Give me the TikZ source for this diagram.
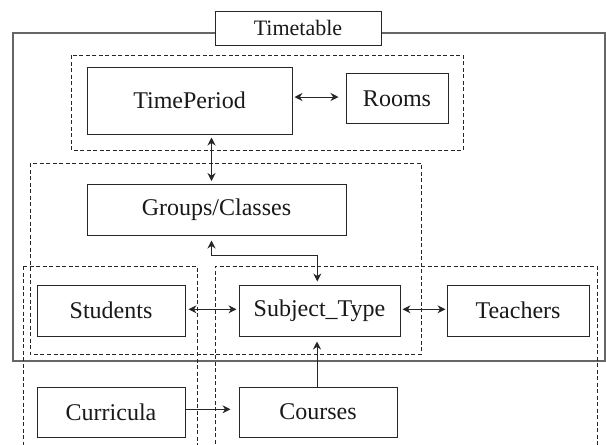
\documentclass[tikz,border=0pt]{standalone}
\usepackage{fontspec}
\setmainfont{Liberation Serif}
\usetikzlibrary{arrows.meta}
\begin{document}
\begin{tikzpicture}[x=1pt,y=-1pt,
  every node/.style={font=\fontsize{24}{28}\selectfont, text=black!90},
  entity/.style={draw=black!85, line width=1pt, inner sep=0pt, fill=white},
  group/.style={draw=black!85, line width=1pt, dash pattern=on 4pt off 2.5pt},
  frame/.style={draw=black!60, line width=1.8pt},
  link/.style={draw=black!85, line width=1pt, {Stealth[length=8pt,width=8pt]}-{Stealth[length=8pt,width=8pt]}},
  oneway/.style={draw=black!85, line width=1pt, -{Stealth[length=8pt,width=8pt]}}]
\useasboundingbox (0,0) rectangle (606,445);

% outer frame of the timetable
\draw[frame] (13,33) rectangle (605,361);

% dashed groupings
\draw[group] (71,55) rectangle (463,150);
\draw[group] (30,163) rectangle (421,354);
\draw[group] (23,266) -- (23,450) (23,266) -- (197,266) -- (197,450);
\draw[group] (215,450) -- (215,266) -- (597,266) -- (597,450);

% entities
\node[entity, minimum width=166pt, minimum height=34pt, font=\fontsize{22}{26}\selectfont] (timetable) at (298,28) {Timetable};
\node[entity, minimum width=205pt, minimum height=67pt] (period) at (189.5,100.5) {TimePeriod};
\node[entity, minimum width=102pt, minimum height=50pt] (rooms) at (397,98.5) {Rooms};
\node[entity, minimum width=259pt, minimum height=51pt] (groups) at (216.5,209.5) {Groups/Classes};
\node[entity, minimum width=148pt, minimum height=51pt] (students) at (111,310.5) {Students};
\node[entity, minimum width=161pt, minimum height=51pt] (subject) at (319.5,310.5) {Subject\_Type};
\node[entity, minimum width=142pt, minimum height=51pt] (teachers) at (518,310.5) {Teachers};
\node[entity, minimum width=148pt, minimum height=50pt] (curricula) at (111,412) {Curricula};
\node[entity, minimum width=158pt, minimum height=50pt] (courses) at (318,412) {Courses};

% connectors
\coordinate (pr) at (0,97);
\draw[link, shorten <=2pt, shorten >=7pt] (period.east |- pr) -- (rooms.west |- pr);
\coordinate (pg) at (211.5,0);
\draw[link, shorten <=3pt, shorten >=2.5pt] (period.south -| pg) -- (groups.north -| pg);
\coordinate (gs) at (317.3,255.3);
\draw[link, shorten <=5pt, shorten >=3pt] (groups.south -| pg) -- (pg |- gs) -- (gs) -- (subject.north -| gs);
\coordinate (ss) at (0,309.3);
\draw[link, shorten <=3pt, shorten >=2pt] (students.east |- ss) -- (subject.west |- ss);
\draw[link, shorten <=2pt, shorten >=1pt] (subject.east |- ss) -- (teachers.west |- ss);
\coordinate (cc) at (0,409.3);
\draw[oneway, shorten >=8pt] (curricula.east |- cc) -- (courses.west |- cc);
\coordinate (cs) at (317,0);
\draw[oneway, shorten >=5pt] (courses.north -| cs) -- (subject.south -| cs);
\end{tikzpicture}
\end{document}
